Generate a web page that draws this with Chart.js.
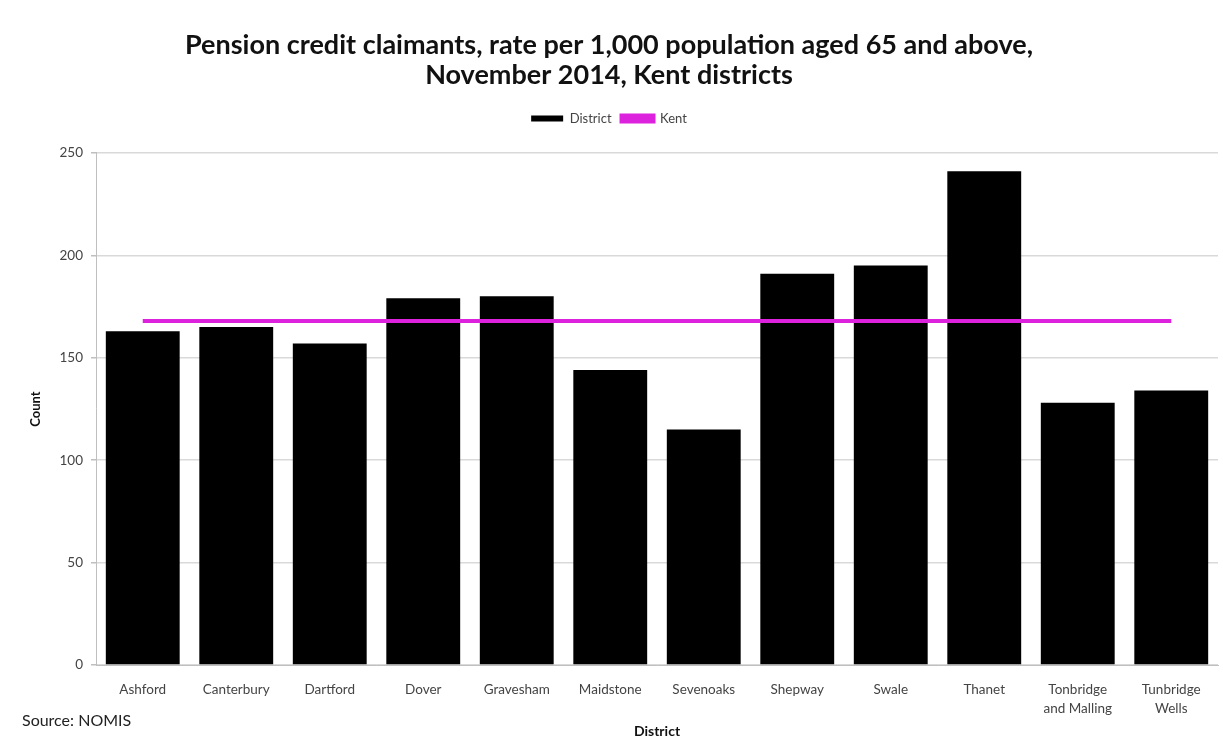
<!DOCTYPE html>
<html>
<head>
<meta charset="utf-8">
<script src="https://cdn.jsdelivr.net/npm/chart.js@4.4.1/dist/chart.umd.min.js"></script>
<style>
    html, body { margin: 0; padding: 0; background: #fff; }
    #wrap { position: relative; width: 1223px; height: 740px; }
    #source { position: absolute; left: 22px; top: 710px; font: 16px Lato, sans-serif; color: #222; }
</style>
</head>
<body>
<div id="wrap">
    <canvas id="pension-chart" width="1223" height="740"></canvas>
    <div id="source">Source: NOMIS</div>
</div>
<script>
const districts = ['Ashford', 'Canterbury', 'Dartford', 'Dover', 'Gravesham', 'Maidstone', 'Sevenoaks',
    'Shepway', 'Swale', 'Thanet', ['Tonbridge', 'and Malling'], ['Tunbridge', 'Wells']];
const districtRates = [163, 165, 157, 179, 180, 144, 115, 191, 195, 241, 128, 134];
const kentRate = 168;
const kentRates = districts.map(() => kentRate);
const yTicks = [0, 50, 100, 150, 200, 250];

const tickFont = { family: 'Lato, sans-serif', size: 13.5, lineHeight: 1.4 };

// leave a gap between the legend row and the plot
const legendGap = {
    id: 'legendGap',
    beforeInit(chart) {
        const fit = chart.legend.fit;
        chart.legend.fit = function () {
            fit.call(this);
            this.height += 18;
        };
    }
};

const ctx = document.getElementById('pension-chart').getContext('2d');
new Chart(ctx, {
    type: 'bar',
    data: {
        labels: districts,
        datasets: [
            {
                type: 'line',
                label: 'Kent',
                data: kentRates,
                borderColor: '#dd22dd',
                backgroundColor: '#dd22dd',
                borderWidth: 4,
                pointRadius: 0,
                order: 0
            },
            {
                label: 'District',
                data: districtRates,
                backgroundColor: '#000000',
                categoryPercentage: 1,
                barPercentage: 0.79,
                order: 1
            }
        ]
    },
    plugins: [legendGap],
    options: {
        responsive: false,
        animation: false,
        layout: { padding: { left: 0, right: 5, top: 20, bottom: 0 } },
        plugins: {
            title: {
                display: true,
                text: ['Pension credit claimants, rate per 1,000 population aged 65 and above,', 'November 2014, Kent districts'],
                color: '#111',
                font: { family: 'Lato, sans-serif', size: 27, weight: 'bold', lineHeight: 1.11 },
                padding: { top: 10, bottom: 12 }
            },
            legend: {
                reverse: true,
                labels: {
                    color: '#444',
                    font: { family: 'Lato, sans-serif', size: 13 },
                    boxWidth: 32,
                    boxHeight: 6,
                    padding: 10
                }
            },
            tooltip: { enabled: false }
        },
        scales: {
            x: {
                grid: { display: false },
                border: { color: '#bfbfbf' },
                ticks: { color: '#444', font: tickFont, maxRotation: 0, autoSkip: false, padding: 7 },
                title: { display: true, text: 'District', color: '#111', font: { family: 'Lato, sans-serif', size: 14, weight: 'bold' }, padding: { top: 0, bottom: 0 } },
                afterFit: scale => { scale.height = 75; }
            },
            y: {
                min: 0,
                max: 250,
                afterBuildTicks: scale => { scale.ticks = yTicks.map(v => ({ value: v })); },
                grid: { color: '#d9d9d9', lineWidth: 1.5, tickLength: 5, tickColor: '#bfbfbf' },
                border: { color: '#bfbfbf' },
                ticks: { color: '#444', font: tickFont, padding: 8 },
                title: { display: true, text: 'Count', color: '#111', font: { family: 'Lato, sans-serif', size: 13, weight: 'bold' }, padding: { top: 28 } },
                afterFit: scale => { scale.width = 96; }
            }
        }
    }
});
</script>
</body>
</html>
